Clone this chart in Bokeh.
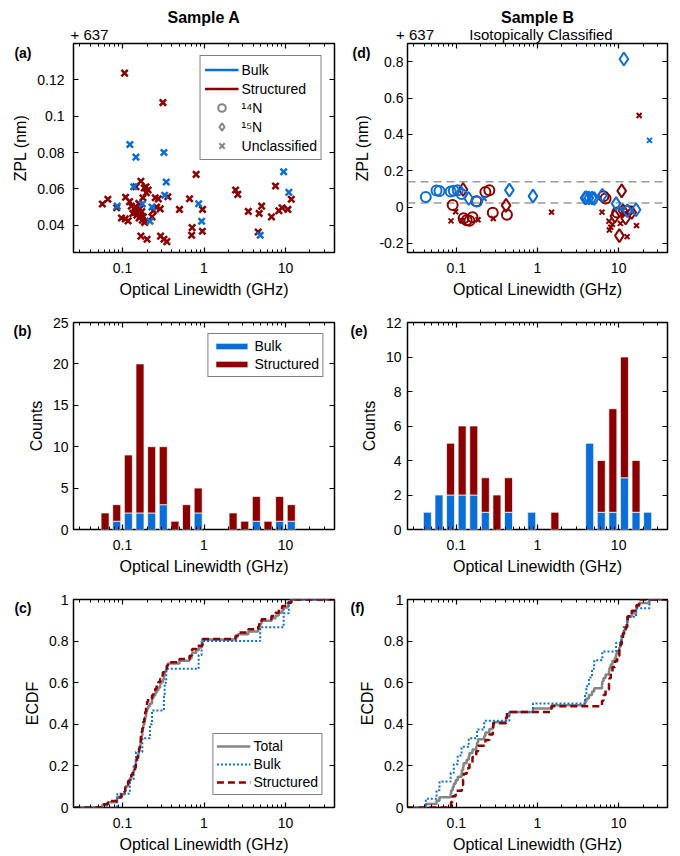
import numpy as np
from bokeh.plotting import figure
from bokeh.layouts import column, row
from bokeh.models import (Range1d, FixedTicker, LogAxis, LinearAxis, CustomJSTickFormatter,
                          Legend, LegendItem, Span)
from bokeh.embed import file_html
from bokeh.resources import INLINE

FONT = "Liberation Sans"
BLUE = "#0A6ED6"
RED = "#8B0000"
GRAY = "#858585"

# ---------------- axes / texts ----------------
x_range_ghz = [0.025, 40.0]
x_ticks = [0.1, 1, 10]
x_minor = [0.03, 0.04, 0.05, 0.06, 0.07, 0.08, 0.09,
           0.2, 0.3, 0.4, 0.5, 0.6, 0.7, 0.8, 0.9,
           2, 3, 4, 5, 6, 7, 8, 9, 20, 30]
x_label = "Optical Linewidth (GHz)"
sample_titles = ["Sample A", "Sample B"]
offset_text = "+ 637"
subtitle_b = "Isotopically Classified"
panel_letters = ["(a)", "(b)", "(c)", "(d)", "(e)", "(f)"]

# ---------------- Sample A (all unclassified) ----------------
a_bulk_lw = [0.086, 0.123, 0.137, 0.146, 0.175, 0.217, 0.23, 0.322, 0.329, 0.344,
             0.86, 0.935, 4.9, 9.5, 11.0]
a_bulk_zpl = [0.0505, 0.0844, 0.0612, 0.0775, 0.0517, 0.0422, 0.050, 0.080, 0.0565, 0.0638,
              0.0518, 0.0422, 0.0345, 0.0694, 0.0581]
a_struct_lw = [0.0565, 0.066,
               0.0847, 0.097,
               0.106, 0.108, 0.117, 0.109, 0.122, 0.128, 0.134,
               0.146, 0.168, 0.178, 0.145, 0.142, 0.155, 0.166, 0.18, 0.175, 0.19,
               0.168, 0.158, 0.163, 0.172, 0.16, 0.187, 0.15, 0.185,
               0.194, 0.206, 0.196, 0.239, 0.262, 0.252, 0.23, 0.2,
               0.313, 0.29, 0.36, 0.293, 0.322, 0.35, 0.275,
               0.50,
               0.665, 0.705, 0.715,
               0.80, 0.96, 0.955,
               2.44, 2.6,
               3.5,
               4.63, 4.76, 5.1,
               6.74,
               7.55, 8.3, 9.1,
               10.7, 11.8]
a_struct_zpl = [0.0517, 0.0543,
                0.0496, 0.044,
                0.1237, 0.0435, 0.0424, 0.0554, 0.053, 0.0505, 0.0465,
                0.0612, 0.0642, 0.0551, 0.050, 0.047, 0.0468, 0.045, 0.0446, 0.0428, 0.0422,
                0.034, 0.052, 0.049, 0.0475, 0.044, 0.0415, 0.0455, 0.0605,
                0.0612, 0.0594, 0.0579, 0.048, 0.050, 0.0551, 0.0446, 0.0323,
                0.1075, 0.049, 0.0557, 0.034, 0.0323, 0.031, 0.0545,
                0.0487,
                0.0546, 0.0345, 0.0387,
                0.068, 0.0487, 0.0367,
                0.0594, 0.057,
                0.0476,
                0.0363, 0.0465, 0.0505,
                0.0446,
                0.0616, 0.048, 0.0496,
                0.0487, 0.0543]

# ---------------- Sample B (isotopically classified) ----------------
b_bulk_lw = [0.042, 0.057, 0.062, 0.085, 0.093, 0.104, 0.116, 0.142, 0.18, 0.22,
             0.45, 0.88, 3.85, 4.0, 4.3, 4.7, 5.0, 6.3, 9.3, 11.6, 10.8, 12.8, 16.4, 24.0]
b_bulk_zpl = [0.056, 0.091, 0.088, 0.086, 0.09, 0.092, 0.072, 0.047, 0.03, 0.047,
              0.093, 0.06, 0.05, 0.052, 0.05, 0.05, 0.047, 0.065, 0.019, 0.815, -0.01, -0.02, -0.015, 0.367]
b_bulk_iso = ["14N", "14N", "14N", "14N", "14N", "14N", "14N", "15N", "14N", "unc",
              "15N", "15N", "15N", "15N", "15N", "15N", "15N", "15N", "15N", "15N", "unc", "15N", "15N", "unc"]

b_struct_lw = [0.09, 0.086, 0.098,
               0.121, 0.123, 0.117, 0.134,
               0.145, 0.158, 0.185, 0.176,
               0.228, 0.255,
               0.281, 0.285,
               0.41, 0.42,
               1.49,
               6.24, 6.5, 6.9,
               7.6, 8.0, 7.7, 9.0, 8.4, 9.6,
               10.9, 10.2, 12.7, 12.2, 11.3, 12.9, 10.5,
               17.9, 16.6, 14.5]
b_struct_zpl = [0.012, -0.076, -0.026,
                0.097, -0.061, -0.075, -0.072,
                -0.075, -0.056, -0.07, 0.032,
                0.083, 0.092,
                -0.031, -0.063,
                0.009, -0.042,
                -0.028,
                -0.028, 0.06, 0.047,
                -0.078, -0.111, -0.126, -0.05, -0.095, -0.03,
                0.089, -0.157, -0.163, -0.06, -0.02, -0.02, -0.09,
                0.504, -0.102, -0.03]
b_struct_iso = ["14N", "unc", "unc",
                "15N", "14N", "unc", "14N",
                "14N", "14N", "unc", "14N",
                "14N", "14N",
                "14N", "unc",
                "15N", "14N",
                "unc",
                "unc", "14N", "14N",
                "unc", "unc", "unc", "15N", "unc", "14N",
                "15N", "15N", "unc", "15N", "15N", "14N", "unc",
                "unc", "unc", "15N"]
b_ref_lines = [0.139, 0.022]

# histogram binning: 7 log bins per decade
bins_per_decade = 7
bin_index = np.arange(-12, 12)


def txt_fmt():
    return CustomJSTickFormatter(code="return String(Math.round(tick*1000)/1000);")


def list_fmt(labels):
    return CustomJSTickFormatter(args=dict(labels=labels), code="return labels[index];")


def base_axis_style(ax):
    ax.axis_line_color = None
    ax.major_tick_out = 0
    ax.minor_tick_out = 0
    ax.major_tick_line_color = "black"
    ax.minor_tick_line_color = "black"
    ax.major_tick_line_width = 1.2
    ax.minor_tick_line_width = 1
    ax.major_label_text_font = FONT
    ax.major_label_text_color = "black"
    ax.axis_label_text_font = FONT
    ax.axis_label_text_font_style = "normal"
    ax.axis_label_text_color = "black"


def tick_axis(ax, ticks, minor, fmt, label, standoff, label_standoff=5, show=True):
    base_axis_style(ax)
    ax.ticker = FixedTicker(ticks=ticks, minor_ticks=minor)
    ax.formatter = fmt
    ax.major_tick_in = 5
    ax.minor_tick_in = 3
    ax.major_label_standoff = standoff
    if show:
        ax.major_label_text_font_size = "14px"
    else:
        ax.major_label_text_font_size = "0px"
        ax.major_label_text_color = None
    if label:
        ax.axis_label = label
        ax.axis_label_text_font_size = "16px"
        ax.axis_label_standoff = label_standoff


def text_axis(ax, ticks, labels, size, bold, standoff):
    base_axis_style(ax)
    ax.ticker = FixedTicker(ticks=ticks, minor_ticks=[])
    ax.formatter = list_fmt(labels)
    ax.major_tick_in = 0
    ax.minor_tick_in = 0
    ax.major_tick_line_color = None
    ax.minor_tick_line_color = None
    ax.major_label_text_font_size = size
    ax.major_label_text_font_style = "bold" if bold else "normal"
    ax.major_label_standoff = standoff


def make_fig(width, height, y_lo, y_hi, y_ticks, y_label, bl, br, bt, bb, y_standoff,
             letter, letter_px, letter_standoff):
    p = figure(width=width, height=height, x_axis_type="log",
               x_range=Range1d(*x_range_ghz), y_range=Range1d(y_lo, y_hi),
               output_backend="svg", toolbar_location=None,
               min_border_left=bl, min_border_right=br,
               min_border_top=bt, min_border_bottom=bb,
               background_fill_color="white", border_fill_color="white")
    p.title.visible = False
    p.grid.visible = False
    p.outline_line_color = "black"
    p.outline_line_width = 1.5
    tick_axis(p.xaxis[0], x_ticks, x_minor, txt_fmt(), x_label, 10, 5)
    tick_axis(p.yaxis[0], y_ticks, [], txt_fmt(), y_label, y_standoff, 5)
    top = LogAxis()
    tick_axis(top, x_ticks, x_minor, txt_fmt(), None, 0, show=False)
    p.add_layout(top, "above")
    right = LinearAxis()
    tick_axis(right, y_ticks, [], txt_fmt(), None, 0, show=False)
    p.add_layout(right, "right")
    # panel letter: an outer left axis carrying a single label near the frame top
    frame_h = height - bt - bb
    y_letter = y_hi - letter_px * (y_hi - y_lo) / frame_h
    lax = LinearAxis()
    text_axis(lax, [y_letter], [letter], "14px", True, letter_standoff)
    p.add_layout(lax, "left")
    return p


def add_header(p, texts, rel_px, title):
    # outer top axis carrying header texts at given offsets (px from frame left)
    w = p.width - p.min_border_left - p.min_border_right
    dec = np.log10(x_range_ghz[1] / x_range_ghz[0])
    xs = [x_range_ghz[0] * 10 ** (r / w * dec) for r in rel_px]
    ax = LogAxis()
    text_axis(ax, xs, texts, "15px", False, 1)
    ax.axis_label = title
    ax.axis_label_text_font_size = "16px"
    ax.axis_label_text_font_style = "bold"
    ax.axis_label_standoff = -3
    p.add_layout(ax, "above")


def style_legend(leg, location, margin, padding, row_h, glyph_w, glyph_h):
    leg.location = location
    leg.margin = margin
    leg.padding = padding
    leg.spacing = 0
    leg.label_height = row_h
    leg.glyph_height = glyph_h
    leg.glyph_width = glyph_w
    leg.label_standoff = 3
    leg.border_line_color = "black"
    leg.border_line_width = 1
    leg.background_fill_color = "white"
    leg.background_fill_alpha = 1
    leg.label_text_font = FONT
    leg.label_text_font_size = "14px"
    leg.label_text_color = "black"


# ---------------- panels ----------------
pa = make_fig(340, 301, 0.025, 0.14, [0.04, 0.06, 0.08, 0.1, 0.12], "ZPL (nm)",
              73, 6, 43, 49, 9, panel_letters[0], 9.5, -22)
pd = make_fig(340, 301, -0.25, 0.9, [-0.2, 0, 0.2, 0.4, 0.6, 0.8], "ZPL (nm)",
              67, 13, 43, 49, 4, panel_letters[3], 9.5, -19)
pb = make_fig(340, 279, 0, 25, [0, 5, 10, 15, 20, 25], "Counts",
              73, 6, 21, 51, 5, panel_letters[1], 8.5, -7)
pe = make_fig(340, 279, 0, 12, [0, 2, 4, 6, 8, 10, 12], "Counts",
              67, 13, 21, 51, 6, panel_letters[4], 8.5, -10)
pc = make_fig(340, 276, 0, 1, [0, 0.2, 0.4, 0.6, 0.8, 1], "ECDF",
              73, 6, 19, 49, 5, panel_letters[2], 8.5, -10)
pf = make_fig(340, 276, 0, 1, [0, 0.2, 0.4, 0.6, 0.8, 1], "ECDF",
              67, 13, 19, 49, 4, panel_letters[5], 8.5, -8)

add_header(pa, [offset_text], [16], sample_titles[0])
add_header(pd, [offset_text, subtitle_b], [7.5, 133.5], sample_titles[1])

# (a) scatter
pa.scatter(a_struct_lw, a_struct_zpl, marker="x", size=9, line_color=RED, line_width=2.5)
pa.scatter(a_bulk_lw, a_bulk_zpl, marker="x", size=9, line_color=BLUE, line_width=2.5)
nan1 = [np.nan]
ra1 = pa.line(nan1, nan1, line_color=BLUE, line_width=2.5)
ra2 = pa.line(nan1, nan1, line_color=RED, line_width=2.5)
ra3 = pa.scatter(nan1, nan1, marker="circle", size=9, line_color=GRAY, fill_color=None, line_width=2)
ra4 = pa.scatter(nan1, nan1, marker="diamond", size=12, line_color=GRAY, fill_color=None, line_width=2)
ra5 = pa.scatter(nan1, nan1, marker="x", size=6, line_color=GRAY, line_width=2)
leg_a = Legend(items=[LegendItem(label="Bulk", renderers=[ra1]),
                      LegendItem(label="Structured", renderers=[ra2]),
                      LegendItem(label="\u00b9\u2074N", renderers=[ra3]),
                      LegendItem(label="\u00b9\u2075N", renderers=[ra4]),
                      LegendItem(label="Unclassified", renderers=[ra5])])
style_legend(leg_a, "top_right", 12, 4, 19, 34, 19)
pa.add_layout(leg_a)

# (d) scatter
for v in b_ref_lines:
    pd.add_layout(Span(location=v, dimension="width", line_color="#9a9a9a",
                       line_dash="8 5", line_width=1.5, level="underlay"))
iso_marker = {"14N": ("circle", 10), "15N": ("diamond", 13), "unc": ("x", 7)}
for lw, zpl, iso, col in [(b_struct_lw, b_struct_zpl, b_struct_iso, RED),
                          (b_bulk_lw, b_bulk_zpl, b_bulk_iso, BLUE)]:
    for key, (mk_, sz) in iso_marker.items():
        xs = [x for x, k in zip(lw, iso) if k == key]
        ys = [y for y, k in zip(zpl, iso) if k == key]
        pd.scatter(xs, ys, marker=mk_, size=sz, line_color=col, fill_color=None, line_width=2)


# histograms
def draw_hist(p, bulk_lw, struct_lw):
    edges = 10.0 ** (np.append(bin_index, bin_index[-1] + 1) / bins_per_decade)
    nb = np.histogram(bulk_lw, bins=edges)[0]
    ns = np.histogram(struct_lw, bins=edges)[0]
    centers = (bin_index + 0.5) / bins_per_decade
    half = 0.345 / bins_per_decade
    left = 10.0 ** (centers - half)
    right = 10.0 ** (centers + half)
    mb = nb > 0
    ms = ns > 0
    rb = p.quad(left=left[mb], right=right[mb], bottom=0, top=nb[mb],
                fill_color=BLUE, line_color="white", line_width=0.7)
    rs = p.quad(left=left[ms], right=right[ms], bottom=nb[ms], top=(nb + ns)[ms],
                fill_color=RED, line_color="white", line_width=0.7)
    return rb, rs


rb, rs = draw_hist(pb, a_bulk_lw, a_struct_lw)
leg_b = Legend(items=[LegendItem(label="Bulk", renderers=[rb]),
                      LegendItem(label="Structured", renderers=[rs])])
style_legend(leg_b, "top_right", 11, 3, 18, 40, 8)
pb.add_layout(leg_b)
draw_hist(pe, b_bulk_lw, b_struct_lw)


# ECDFs
def ecdf(values):
    v = np.sort(np.asarray(values, dtype=float))
    n = len(v)
    xs = np.concatenate([[x_range_ghz[0]], v, [x_range_ghz[1]]])
    ys = np.concatenate([[0.0], np.arange(1, n + 1) / n, [1.0]])
    return xs, ys


def draw_ecdf(p, bulk_lw, struct_lw):
    xt, yt = ecdf(list(bulk_lw) + list(struct_lw))
    xb, yb = ecdf(bulk_lw)
    xs, ys = ecdf(struct_lw)
    r1 = p.step(xt, yt, mode="after", line_color=GRAY, line_width=2.5)
    r2 = p.step(xb, yb, mode="after", line_color=BLUE, line_width=2, line_dash="2 2")
    r3 = p.step(xs, ys, mode="after", line_color=RED, line_width=2.5, line_dash="7 4")
    return r1, r2, r3


r1, r2, r3 = draw_ecdf(pc, a_bulk_lw, a_struct_lw)
leg_c = Legend(items=[LegendItem(label="Total", renderers=[r1]),
                      LegendItem(label="Bulk", renderers=[r2]),
                      LegendItem(label="Structured", renderers=[r3])])
style_legend(leg_c, "bottom_right", 12, 3, 18, 34, 18)
pc.add_layout(leg_c)
draw_ecdf(pf, b_bulk_lw, b_struct_lw)

layout = column(row(pa, pd), row(pb, pe), row(pc, pf))
open("out.html", "w").write(file_html(layout, INLINE))
